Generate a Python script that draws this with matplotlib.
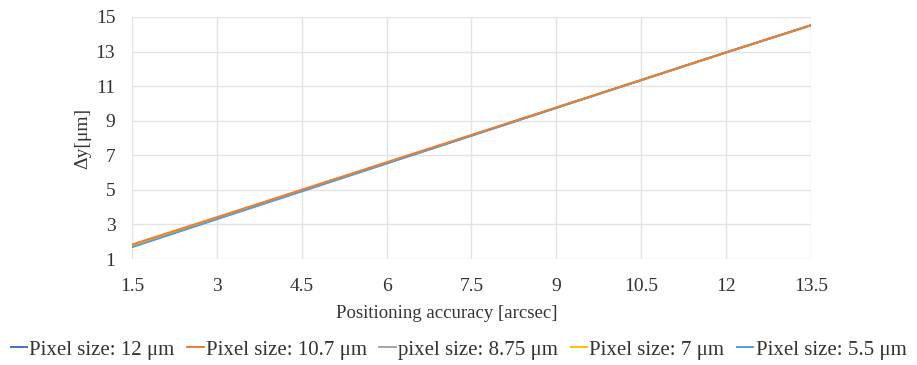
import numpy as np
import matplotlib.pyplot as plt

plt.rcParams['font.family'] = ['Liberation Serif', 'DejaVu Serif']

# positioning accuracy [arcsec]
accuracy = [1.5, 3, 4.5, 6, 7.5, 9, 10.5, 12, 13.5]

# delta y [um] for each pixel size (lines almost overlap)
dy_12 = [1.72, 3.33, 4.93, 6.54, 8.14, 9.75, 11.35, 12.95, 14.52]
dy_10_7 = [1.84, 3.42, 5.01, 6.60, 8.18, 9.77, 11.36, 12.95, 14.52]
dy_8_75 = [1.78, 3.37, 4.97, 6.56, 8.15, 9.75, 11.34, 12.94, 14.51]
dy_7 = [1.75, 3.35, 4.95, 6.55, 8.15, 9.75, 11.35, 12.95, 14.52]
dy_5_5 = [1.68, 3.30, 4.91, 6.52, 8.13, 9.74, 11.35, 12.96, 14.53]

labels = ['Pixel size: 12 μm', 'Pixel size: 10.7 μm', 'pixel size: 8.75 μm',
          'Pixel size: 7 μm', 'Pixel size: 5.5 μm']
colors = ['#4472C4', '#ED7D31', '#A5A5A5', '#FFC000', '#5B9BD5']
all_dy = [dy_12, dy_10_7, dy_8_75, dy_7, dy_5_5]

fig = plt.figure(figsize=(9.17, 3.65), dpi=100)
ax = fig.add_axes([132 / 917, 1 - 259 / 365, (811 - 132) / 917, (259 - 17) / 365])

lines = []
for i, (ys, lab, c) in enumerate(zip(all_dy, labels, colors)):
    ln, = ax.plot(accuracy, ys, color=c, linewidth=1.4, label=lab, zorder=4 if i == 1 else 3)
    lines.append(ln)

ax.set_xlim(1.5, 13.5)
ax.set_ylim(1, 15)
ax.set_xticks(accuracy)
ax.set_xticklabels(['1.5', '3', '4.5', '6', '7.5', '9', '10.5', '12', '13.5'])
ax.set_yticks(np.arange(1, 16, 2))
ax.grid(True, color='#E3E3E3', linewidth=1)
ax.set_axisbelow(True)
for s in ax.spines.values():
    s.set_visible(False)
ax.tick_params(length=0, labelsize=14, colors='#333333')
ax.tick_params(axis='x', pad=14)
ax.tick_params(axis='y', pad=12)
ax.set_xlabel('Positioning accuracy [arcsec]', fontsize=13.5, color='#333333')
ax.xaxis.set_label_coords((447 - 132) / 679, -(313 - 259) / 242)
ax.xaxis.label.set_va('center')
ax.set_ylabel('Δy[μm]', fontsize=14, color='#333333')
ax.yaxis.set_label_coords(-(132 - 83) / 679, 0.5)
ax.yaxis.label.set_va('center')

fig.legend(lines, labels, loc='center',
           bbox_to_anchor=(0.5, 1 - 350 / 365), ncol=5, frameon=False,
           fontsize=15, handlelength=0.8, handletextpad=0.1, columnspacing=0.6,
           labelcolor='#333333', borderpad=0, borderaxespad=0)

fig.savefig('out.png', dpi=100)
